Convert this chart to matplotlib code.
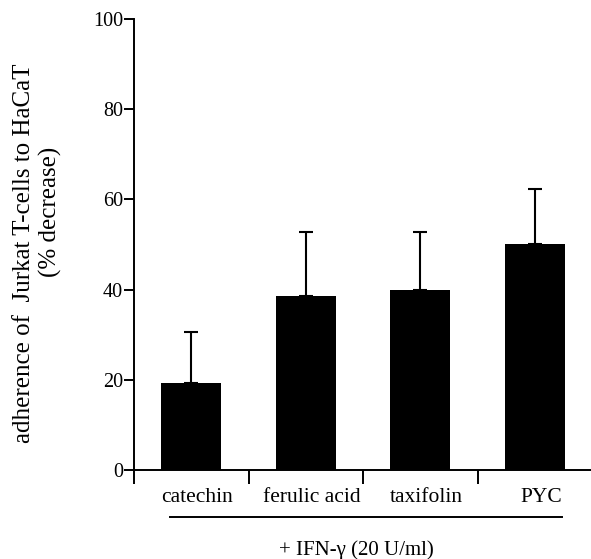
import matplotlib
matplotlib.use("Agg")
import matplotlib.pyplot as plt
import matplotlib.transforms as mtransforms
import numpy as np

categories = ["catechin", "ferulic acid", "taxifolin", "PYC"]
values = [19.2, 38.6, 40.0, 50.2]
errors = [11.3, 14.2, 12.8, 12.0]
yticks = [0, 20, 40, 60, 80, 100]
ylabel1 = "adherence of  Jurkat T-cells to HaCaT"
ylabel2 = "(% decrease)"
treatment = "+ IFN-\u03b3 (20 U/ml)"

plt.rcParams['font.family'] = ['Liberation Serif', 'DejaVu Serif']

W, H = 591, 559
fig = plt.figure(figsize=(W / 100, H / 100), dpi=100)
ax = fig.add_axes([134 / W, 1 - 470 / H, (591 - 134) / W, (470 - 19) / H])

x = np.arange(len(categories))
ax.bar(x, values, width=0.524, color="black", zorder=2)
ax.errorbar(x, values, yerr=[np.zeros(len(errors)), errors], fmt="none",
            ecolor="black", elinewidth=1.5, capsize=4.7, capthick=1.5, zorder=3)

ax.set_xlim(-0.5, 3.49)
ax.set_ylim(0, 100)
ax.set_yticks(yticks)
ax.set_yticklabels([str(v) for v in yticks], fontsize=14.5)
ax.tick_params(axis="y", direction="out", length=7, width=1.4, pad=1)

# major x ticks: labels only
ax.set_xticks(x)
ax.set_xticklabels(categories, fontsize=15.5)
ax.tick_params(axis="x", which="major", length=0, pad=13)
off = mtransforms.ScaledTranslation(6 / 100, 0, fig.dpi_scale_trans)
for lab in ax.get_xticklabels():
    lab.set_transform(lab.get_transform() + off)
# minor x ticks at category boundaries
ax.set_xticks([-0.5, 0.5, 1.5, 2.5], minor=True)
ax.tick_params(axis="x", which="minor", direction="out", length=10, width=1.4)

for s in ["top", "right"]:
    ax.spines[s].set_visible(False)
for s in ["left", "bottom"]:
    ax.spines[s].set_linewidth(1.4)

# line under the category labels
fig.add_artist(plt.Line2D([170 / W, 562 / W], [1 - 517 / H, 1 - 517 / H],
                          color="black", linewidth=1.4))
fig.text(356 / W, 1 - 550 / H, treatment, ha="center", va="center", fontsize=15)

fig.text(24 / W, 1 - 253 / H, ylabel1, rotation=90, ha="center", va="center", fontsize=18)
fig.text(50 / W, 1 - 212 / H, ylabel2, rotation=90, ha="center", va="center", fontsize=18)

fig.savefig("out.png", dpi=100)
